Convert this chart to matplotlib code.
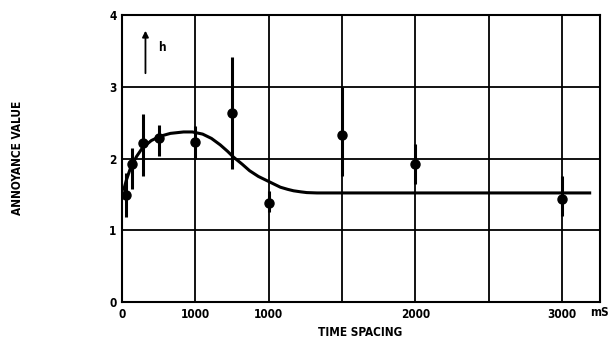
import matplotlib
matplotlib.use("Agg")
import matplotlib.pyplot as plt
import numpy as np

# Data
time_ms = [25, 65, 140, 250, 500, 750, 1000, 1500, 2000, 3000]
annoyance = [1.49, 1.93, 2.21, 2.28, 2.23, 2.64, 1.38, 2.33, 1.93, 1.43]
err_top = [1.80, 2.14, 2.62, 2.46, 2.45, 3.42, 1.55, 3.00, 2.20, 1.75]
err_bottom = [1.18, 1.58, 1.75, 2.04, 2.00, 1.86, 1.25, 1.75, 1.65, 1.20]

curve_ms = [10, 30, 60, 100, 140, 200, 260, 330, 420, 480, 550, 610, 670, 720,
            760, 820, 870, 930, 990, 1040, 1080, 1130, 1170, 1220, 1260, 1330,
            2000, 3200]
curve_val = [1.55, 1.70, 1.88, 2.03, 2.15, 2.25, 2.31, 2.35, 2.37, 2.37, 2.34,
             2.28, 2.19, 2.10, 2.02, 1.92, 1.83, 1.75, 1.69, 1.64, 1.60, 1.57,
             1.55, 1.535, 1.525, 1.52, 1.52, 1.52]

xtick_pos = [0, 500, 1000, 1500, 2000, 2500, 3000]
xtick_labels = ["0", "1000", "1000", "", "2000", "", "3000"]
ytick_pos = [0, 1, 2, 3, 4]
ytick_labels = ["0", "1", "2", "3", "4"]

font = dict(family="DejaVu Sans", weight="bold", stretch="condensed")

fig = plt.figure(figsize=(6.1, 3.4), dpi=100)
ax = fig.add_axes([122/610, 1 - 302/340, (600 - 122)/610, (302 - 15)/340])

ax.set_xlim(0, 3260)
ax.set_ylim(0, 4)

ax.set_xticks(xtick_pos)
ax.set_xticklabels(xtick_labels, fontsize=8.5, **font)
ax.set_yticks(ytick_pos)
ax.set_yticklabels(ytick_labels, fontsize=8.5, **font)
ax.tick_params(length=0, pad=4)
ax.grid(True, color="black", linewidth=1.3)
ax.set_axisbelow(True)
for s in ax.spines.values():
    s.set_linewidth(1.5)

# smooth curve
ax.plot(curve_ms, curve_val, color="black", linewidth=2.2,
        solid_joinstyle="round", solid_capstyle="butt", zorder=3)

# data points with error bars
y = np.array(annoyance)
lower = y - np.array(err_bottom)
upper = np.array(err_top) - y
ax.errorbar(time_ms, annoyance, yerr=[lower, upper], fmt="o", color="black",
            markersize=6.5, elinewidth=2.2, capsize=0, zorder=4)

# arrow with h
ax.annotate("", xy=(160, 3.82), xytext=(160, 3.15),
            arrowprops=dict(arrowstyle="-|>", color="black", lw=1.3, mutation_scale=9))
ax.text(245, 3.55, "h", fontsize=8.5, ha="left", va="center", **font)

# mS unit label
fig.text(590/610, 1 - 312/340, "mS", fontsize=8.5, ha="left", va="center", **font)

fig.text(360/610, 1 - 332/340, "TIME SPACING", fontsize=8.5, ha="center", va="center", **font)
fig.text(18/610, 1 - 158/340, "ANNOYANCE VALUE", fontsize=8.5, ha="center", va="center",
         rotation=90, **font)

fig.savefig("out.png", dpi=100)
